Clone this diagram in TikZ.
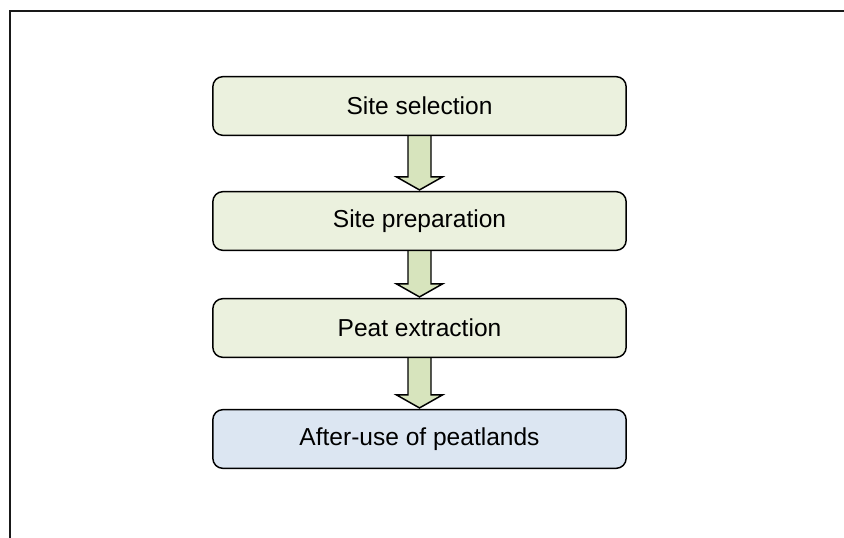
\documentclass[tikz,border=0pt]{standalone}
\usepackage{fontspec}
\setmainfont{Liberation Sans}
\usepackage{tikz}
\usetikzlibrary{calc}
\usetikzlibrary{backgrounds}
\definecolor{stepgreen}{HTML}{EBF1DE}
\definecolor{arrowgreen}{HTML}{D7E4BD}
\definecolor{stepblue}{HTML}{DCE6F2}
\newcommand{\BlockArrow}[2]{\draw[FatArrow] ($(#1.south)+(-11.5,0)$) -- ($(#2.north)+(-11.5,14)$) -- ($(#2.north)+(-23,14)$) -- ($(#2.north)+(0,1)$) -- ($(#2.north)+(23,14)$) -- ($(#2.north)+(11.5,14)$) -- ($(#1.south)+(11.5,0)$)}

\begin{document}
\begin{tikzpicture}[
x=0.75pt,y=0.75pt,
StepBox/.style={draw=black,fill=stepgreen,line width=1.1pt,rounded corners=7.5pt,
  minimum width=310pt,minimum height=44pt,inner sep=0pt,
  font=\fontsize{18.4}{22}\selectfont},
LastBox/.style={StepBox,fill=stepblue},
FatArrow/.style={draw=black,fill=arrowgreen,line width=1.1pt,line join=miter},
Frame/.style={draw=black!90,line width=1.5pt}
]
\useasboundingbox (0,0) rectangle (844,538);

% open frame: top and left only
\coordinate (FrameTL) at (10,527);
\coordinate (FrameTR) at (844,527);
\coordinate (FrameBL) at (10,0);
\draw[Frame] (FrameTR) -- (FrameTL) -- (FrameBL);

\node[StepBox] (select) at (419.5,432) {Site selection};
\node[StepBox] (prepare) at (419.5,317) {Site preparation};
\node[StepBox] (extract) at (419.5,210) {Peat extraction};
\node[LastBox] (afteruse) at (419.5,99) {After-use of peatlands};

\begin{scope}[on background layer]
\BlockArrow{select}{prepare};
\BlockArrow{prepare}{extract};
\BlockArrow{extract}{afteruse};
\end{scope}

\end{tikzpicture}
\end{document}
